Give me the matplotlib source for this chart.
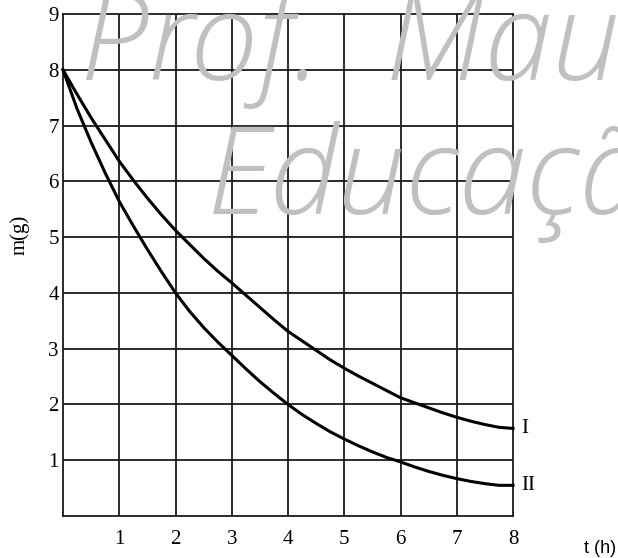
import numpy as np
import matplotlib
matplotlib.use("Agg")
import matplotlib.pyplot as plt

# --- data ---
t_I = [0, 0.25, 0.5, 0.75, 1, 1.25, 1.5, 1.75, 2, 2.25, 2.5, 2.75, 3, 3.25, 3.5, 3.75,
       4, 4.25, 4.5, 4.75, 5, 5.25, 5.5, 5.75, 6, 6.25, 6.5, 6.75, 7, 7.25, 7.5, 7.75, 8]
m_I = [8, 7.56, 7.14, 6.75, 6.36, 6.02, 5.70, 5.40, 5.12, 4.87, 4.62, 4.39, 4.18, 3.96, 3.74, 3.52,
       3.31, 3.14, 2.97, 2.80, 2.65, 2.51, 2.38, 2.25, 2.12, 2.03, 1.94, 1.85, 1.77, 1.70, 1.64, 1.59, 1.57]

t_II = t_I
m_II = [8, 7.30, 6.70, 6.15, 5.64, 5.20, 4.78, 4.38, 4.00, 3.67, 3.38, 3.12, 2.88, 2.64, 2.41, 2.20,
        2.00, 1.82, 1.66, 1.51, 1.38, 1.26, 1.15, 1.05, 0.97, 0.88, 0.80, 0.73, 0.67, 0.62, 0.58, 0.55, 0.55]

x_ticks = [1, 2, 3, 4, 5, 6, 7, 8]
y_ticks = [1, 2, 3, 4, 5, 6, 7, 8, 9]
curve_names = ["I", "II"]

SERIF = "Liberation Serif"

fig = plt.figure(figsize=(6.18, 5.58), dpi=100)
ax = fig.add_axes([63 / 618, 1 - 516 / 558, 450 / 618, 502 / 558])

ax.set_xlim(0, 8)
ax.set_ylim(0, 9)

# grade
for xv in range(1, 8):
    ax.axvline(xv, color="#1a1a1a", lw=1.3, zorder=1)
for yv in range(1, 9):
    ax.axhline(yv, color="#1a1a1a", lw=1.3, zorder=1)
for sp in ax.spines.values():
    sp.set_color("#1a1a1a")
    sp.set_linewidth(1.3)

ax.set_xticks(x_ticks)
ax.set_xticklabels([str(v) for v in x_ticks], family=SERIF, fontsize=15)
ax.set_yticks(y_ticks)
ax.set_yticklabels([str(v) for v in y_ticks], family=SERIF, fontsize=15)
ax.tick_params(axis="x", length=0, pad=10)
ax.tick_params(axis="y", length=0, pad=3)

# curvas
ax.plot(t_I, m_I, color="black", lw=2.2, zorder=5, clip_on=False)
ax.plot(t_II, m_II, color="black", lw=2.2, zorder=5, clip_on=False)
ax.text(8.15, m_I[-1], curve_names[0], family=SERIF, fontsize=15,
        ha="left", va="center", clip_on=False)
ax.text(8.15, m_II[-1], curve_names[1], family=SERIF, fontsize=15,
        ha="left", va="center", clip_on=False)

fig.text(20 / 618, 1 - 235 / 558, "m(g)", family=SERIF, fontsize=15,
         rotation=90, ha="center", va="center")
fig.text(584 / 618, 1 - 557 / 558, "t (h)", family="Liberation Sans",
         fontsize=13, ha="left", va="bottom")

# marca d'agua
wm = dict(family=["Open Sans", "DejaVu Sans"], style="italic", weight="light",
          color="#c0c0c0", fontsize=88, zorder=3)
fig.text(80 / 618, 1 - 80 / 558, "Prof.  Mau", ha="left", va="baseline", **wm)
fig.text(207 / 618, 1 - 214 / 558, "Educaçã", ha="left", va="baseline", **wm)

fig.savefig("out.png", dpi=100)
